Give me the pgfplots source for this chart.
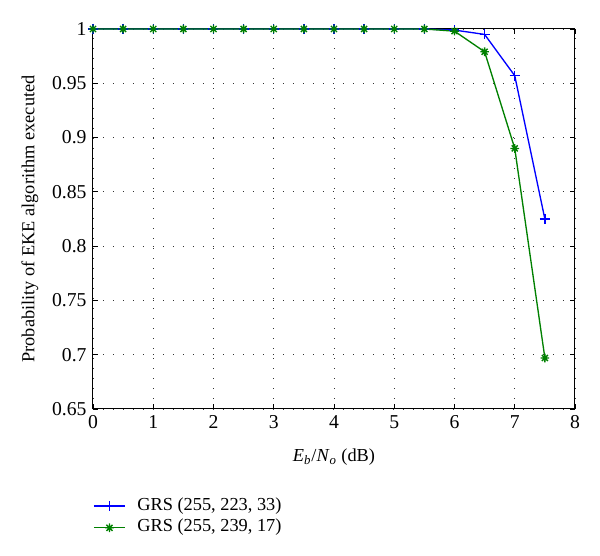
\documentclass[border=0pt]{standalone}
\usepackage{fontspec}
\setmainfont{Liberation Serif}
\usepackage{pgfplots}
\pgfplotsset{compat=1.18}

% MATLAB style '*' marker: plus and cross together
\pgfdeclareplotmark{mstar}{%
  \pgfpathmoveto{\pgfqpoint{-\pgfplotmarksize}{0pt}}%
  \pgfpathlineto{\pgfqpoint{\pgfplotmarksize}{0pt}}%
  \pgfpathmoveto{\pgfqpoint{0pt}{-\pgfplotmarksize}}%
  \pgfpathlineto{\pgfqpoint{0pt}{\pgfplotmarksize}}%
  \pgfpathmoveto{\pgfqpoint{-0.7\pgfplotmarksize}{-0.7\pgfplotmarksize}}%
  \pgfpathlineto{\pgfqpoint{0.7\pgfplotmarksize}{0.7\pgfplotmarksize}}%
  \pgfpathmoveto{\pgfqpoint{-0.7\pgfplotmarksize}{0.7\pgfplotmarksize}}%
  \pgfpathlineto{\pgfqpoint{0.7\pgfplotmarksize}{-0.7\pgfplotmarksize}}%
  \pgfusepathqstroke}

\definecolor{mblue}{rgb}{0,0,1}
\definecolor{mgreen}{rgb}{0,0.5,0}

\begin{document}
\fontsize{11}{13}\selectfont
\begin{tikzpicture}
\begin{axis}[
  scale only axis,
  width=289.2pt, height=228pt,
  xmin=0, xmax=8, ymin=0.65, ymax=1,
  xtick={0,1,...,8},
  ytick={0.65,0.7,0.75,0.8,0.85,0.9,0.95,1},
  yticklabel style={/pgf/number format/fixed, /pgf/number format/precision=2},
  /pgf/number format/assume math mode=true,
  tick align=inside,
  major tick length=3pt,
  tick style={black, line width=0.5pt},
  axis line style={black, line width=0.6pt},
  grid=major,
  major grid style={black!80, line width=0.5pt, dash pattern=on 0.6pt off 5.4pt},
  tick label style={font=\fontsize{11.8}{14}\selectfont},
  label style={font=\fontsize{11}{13}\selectfont},
  xlabel={\textit{E}\textsubscript{\textit{b}}/\textit{N}\textsubscript{\textit{o}} (dB)},
  ylabel={Probability of EKE algorithm executed},
  xlabel style={at={(axis description cs:0.5,-0.126)}, anchor=center},
  ylabel style={at={(axis description cs:-0.1307,0.5)}, anchor=center},
  clip=false,
  legend cell align=left,
  legend style={
    at={(axis description cs:0,-0.2263)}, anchor=north west,
    draw=none, fill=none, inner sep=0pt,
    font=\fontsize{11}{13}\selectfont,
    nodes={inner sep=1.5pt, text height=7.5pt, text depth=2.5pt},
    /tikz/every odd column/.append style={column sep=5.5pt},
  },
  legend image code/.code={%
    \draw[mark repeat=2, mark phase=2, #1]
      plot coordinates {(0pt,0pt) (9.3pt,0pt) (18.6pt,0pt)};},
]
\addplot[mblue, line width=0.8pt, mark=+, mark size=3pt] coordinates {
  (0,1) (0.5,1) (1,1) (1.5,1) (2,1) (2.5,1) (3,1) (3.5,1) (4,1) (4.5,1)
  (5,1) (5.5,1) (6,0.999) (6.5,0.995) (7,0.957) (7.5,0.825)
};
\addlegendentry{GRS (255, 223, 33)}
\addplot[mgreen, line width=0.8pt, mark=mstar, mark size=2.6pt] coordinates {
  (0,1) (0.5,1) (1,1) (1.5,1) (2,1) (2.5,1) (3,1) (3.5,1) (4,1) (4.5,1)
  (5,1) (5.5,1) (6,0.998) (6.5,0.979) (7,0.890) (7.5,0.697)
};
\addlegendentry{GRS (255, 239, 17)}
\end{axis}
\pgfresetboundingbox
\path (-55.8pt,-88.2pt) rectangle (304.2pt,245.4pt);
\end{tikzpicture}
\end{document}
